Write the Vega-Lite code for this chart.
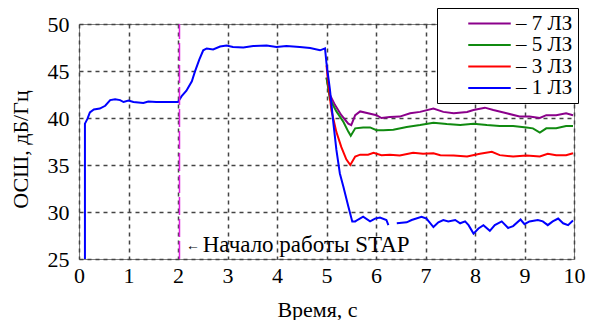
{
  "$schema": "https://vega.github.io/schema/vega-lite/v6.json",
  "width": 495,
  "height": 235,
  "autosize": {"type": "none"},
  "padding": {"left": 79, "top": 24, "right": 19, "bottom": 61},
  "background": "white",
  "view": {"stroke": "#808080", "strokeWidth": 1},
  "datasets": {
    "series": [
      {"t": 5.0, "v": 44.3, "s": "7 ЛЗ"},
      {"t": 5.07, "v": 42.45, "s": "7 ЛЗ"},
      {"t": 5.17, "v": 41.4, "s": "7 ЛЗ"},
      {"t": 5.3, "v": 40.3, "s": "7 ЛЗ"},
      {"t": 5.44, "v": 39.4, "s": "7 ЛЗ"},
      {"t": 5.5, "v": 39.25, "s": "7 ЛЗ"},
      {"t": 5.58, "v": 40.3, "s": "7 ЛЗ"},
      {"t": 5.68, "v": 40.7, "s": "7 ЛЗ"},
      {"t": 5.84, "v": 40.5, "s": "7 ЛЗ"},
      {"t": 6.01, "v": 40.3, "s": "7 ЛЗ"},
      {"t": 6.11, "v": 40.0, "s": "7 ЛЗ"},
      {"t": 6.28, "v": 40.1, "s": "7 ЛЗ"},
      {"t": 6.48, "v": 40.15, "s": "7 ЛЗ"},
      {"t": 6.69, "v": 40.5, "s": "7 ЛЗ"},
      {"t": 6.89, "v": 40.65, "s": "7 ЛЗ"},
      {"t": 7.16, "v": 41.0, "s": "7 ЛЗ"},
      {"t": 7.36, "v": 40.65, "s": "7 ЛЗ"},
      {"t": 7.57, "v": 40.5, "s": "7 ЛЗ"},
      {"t": 7.84, "v": 40.65, "s": "7 ЛЗ"},
      {"t": 7.97, "v": 40.85, "s": "7 ЛЗ"},
      {"t": 8.2, "v": 41.1, "s": "7 ЛЗ"},
      {"t": 8.37, "v": 40.85, "s": "7 ЛЗ"},
      {"t": 8.64, "v": 40.5, "s": "7 ЛЗ"},
      {"t": 8.9, "v": 40.15, "s": "7 ЛЗ"},
      {"t": 9.1, "v": 40.15, "s": "7 ЛЗ"},
      {"t": 9.31, "v": 40.0, "s": "7 ЛЗ"},
      {"t": 9.44, "v": 40.3, "s": "7 ЛЗ"},
      {"t": 9.64, "v": 40.3, "s": "7 ЛЗ"},
      {"t": 9.84, "v": 40.5, "s": "7 ЛЗ"},
      {"t": 9.98, "v": 40.3, "s": "7 ЛЗ"},

      {"t": 5.0, "v": 44.3, "s": "5 ЛЗ"},
      {"t": 5.07, "v": 42.0, "s": "5 ЛЗ"},
      {"t": 5.2, "v": 40.7, "s": "5 ЛЗ"},
      {"t": 5.34, "v": 39.6, "s": "5 ЛЗ"},
      {"t": 5.44, "v": 38.55, "s": "5 ЛЗ"},
      {"t": 5.49, "v": 38.1, "s": "5 ЛЗ"},
      {"t": 5.58, "v": 38.9, "s": "5 ЛЗ"},
      {"t": 5.74, "v": 39.0, "s": "5 ЛЗ"},
      {"t": 5.88, "v": 39.0, "s": "5 ЛЗ"},
      {"t": 6.01, "v": 38.7, "s": "5 ЛЗ"},
      {"t": 6.15, "v": 38.7, "s": "5 ЛЗ"},
      {"t": 6.35, "v": 38.75, "s": "5 ЛЗ"},
      {"t": 6.62, "v": 39.05, "s": "5 ЛЗ"},
      {"t": 6.89, "v": 39.25, "s": "5 ЛЗ"},
      {"t": 7.16, "v": 39.5, "s": "5 ЛЗ"},
      {"t": 7.43, "v": 39.35, "s": "5 ЛЗ"},
      {"t": 7.7, "v": 39.25, "s": "5 ЛЗ"},
      {"t": 7.97, "v": 39.4, "s": "5 ЛЗ"},
      {"t": 8.24, "v": 39.25, "s": "5 ЛЗ"},
      {"t": 8.5, "v": 39.15, "s": "5 ЛЗ"},
      {"t": 8.77, "v": 39.15, "s": "5 ЛЗ"},
      {"t": 9.04, "v": 39.0, "s": "5 ЛЗ"},
      {"t": 9.17, "v": 38.9, "s": "5 ЛЗ"},
      {"t": 9.31, "v": 38.45, "s": "5 ЛЗ"},
      {"t": 9.44, "v": 38.9, "s": "5 ЛЗ"},
      {"t": 9.64, "v": 38.9, "s": "5 ЛЗ"},
      {"t": 9.84, "v": 39.15, "s": "5 ЛЗ"},
      {"t": 9.98, "v": 39.15, "s": "5 ЛЗ"},

      {"t": 5.0, "v": 45.6, "s": "3 ЛЗ"},
      {"t": 5.04, "v": 43.5, "s": "3 ЛЗ"},
      {"t": 5.1, "v": 40.8, "s": "3 ЛЗ"},
      {"t": 5.2, "v": 38.5, "s": "3 ЛЗ"},
      {"t": 5.3, "v": 36.9, "s": "3 ЛЗ"},
      {"t": 5.4, "v": 35.6, "s": "3 ЛЗ"},
      {"t": 5.48, "v": 35.0, "s": "3 ЛЗ"},
      {"t": 5.58, "v": 35.9, "s": "3 ЛЗ"},
      {"t": 5.68, "v": 36.1, "s": "3 ЛЗ"},
      {"t": 5.84, "v": 36.1, "s": "3 ЛЗ"},
      {"t": 5.95, "v": 36.3, "s": "3 ЛЗ"},
      {"t": 6.11, "v": 36.05, "s": "3 ЛЗ"},
      {"t": 6.28, "v": 36.1, "s": "3 ЛЗ"},
      {"t": 6.48, "v": 36.0, "s": "3 ЛЗ"},
      {"t": 6.75, "v": 36.3, "s": "3 ЛЗ"},
      {"t": 6.95, "v": 36.2, "s": "3 ЛЗ"},
      {"t": 7.16, "v": 36.25, "s": "3 ЛЗ"},
      {"t": 7.3, "v": 36.05, "s": "3 ЛЗ"},
      {"t": 7.57, "v": 36.0, "s": "3 ЛЗ"},
      {"t": 7.84, "v": 35.9, "s": "3 ЛЗ"},
      {"t": 8.1, "v": 36.2, "s": "3 ЛЗ"},
      {"t": 8.34, "v": 36.4, "s": "3 ЛЗ"},
      {"t": 8.5, "v": 36.05, "s": "3 ЛЗ"},
      {"t": 8.77, "v": 35.9, "s": "3 ЛЗ"},
      {"t": 9.04, "v": 36.0, "s": "3 ЛЗ"},
      {"t": 9.31, "v": 35.9, "s": "3 ЛЗ"},
      {"t": 9.47, "v": 36.2, "s": "3 ЛЗ"},
      {"t": 9.64, "v": 36.05, "s": "3 ЛЗ"},
      {"t": 9.84, "v": 36.05, "s": "3 ЛЗ"},
      {"t": 9.98, "v": 36.25, "s": "3 ЛЗ"},

      {"t": 0.12, "v": 25.0, "s": "1 ЛЗ"},
      {"t": 0.12, "v": 39.4, "s": "1 ЛЗ"},
      {"t": 0.17, "v": 39.9, "s": "1 ЛЗ"},
      {"t": 0.22, "v": 40.6, "s": "1 ЛЗ"},
      {"t": 0.3, "v": 40.9, "s": "1 ЛЗ"},
      {"t": 0.42, "v": 41.0, "s": "1 ЛЗ"},
      {"t": 0.53, "v": 41.3, "s": "1 ЛЗ"},
      {"t": 0.63, "v": 41.9, "s": "1 ЛЗ"},
      {"t": 0.73, "v": 42.0, "s": "1 ЛЗ"},
      {"t": 0.83, "v": 41.9, "s": "1 ЛЗ"},
      {"t": 0.9, "v": 41.7, "s": "1 ЛЗ"},
      {"t": 1.0, "v": 41.85, "s": "1 ЛЗ"},
      {"t": 1.1, "v": 41.7, "s": "1 ЛЗ"},
      {"t": 1.3, "v": 41.6, "s": "1 ЛЗ"},
      {"t": 1.4, "v": 41.75, "s": "1 ЛЗ"},
      {"t": 1.56, "v": 41.7, "s": "1 ЛЗ"},
      {"t": 1.76, "v": 41.7, "s": "1 ЛЗ"},
      {"t": 2.0, "v": 41.7, "s": "1 ЛЗ"},
      {"t": 2.07, "v": 42.3, "s": "1 ЛЗ"},
      {"t": 2.17, "v": 42.9, "s": "1 ЛЗ"},
      {"t": 2.28, "v": 43.9, "s": "1 ЛЗ"},
      {"t": 2.34, "v": 44.9, "s": "1 ЛЗ"},
      {"t": 2.43, "v": 46.2, "s": "1 ЛЗ"},
      {"t": 2.51, "v": 47.2, "s": "1 ЛЗ"},
      {"t": 2.58, "v": 47.4, "s": "1 ЛЗ"},
      {"t": 2.71, "v": 47.3, "s": "1 ЛЗ"},
      {"t": 2.85, "v": 47.6, "s": "1 ЛЗ"},
      {"t": 2.98, "v": 47.7, "s": "1 ЛЗ"},
      {"t": 3.11, "v": 47.55, "s": "1 ЛЗ"},
      {"t": 3.32, "v": 47.5, "s": "1 ЛЗ"},
      {"t": 3.52, "v": 47.65, "s": "1 ЛЗ"},
      {"t": 3.79, "v": 47.7, "s": "1 ЛЗ"},
      {"t": 3.99, "v": 47.55, "s": "1 ЛЗ"},
      {"t": 4.19, "v": 47.65, "s": "1 ЛЗ"},
      {"t": 4.46, "v": 47.55, "s": "1 ЛЗ"},
      {"t": 4.67, "v": 47.45, "s": "1 ЛЗ"},
      {"t": 4.87, "v": 47.2, "s": "1 ЛЗ"},
      {"t": 4.97, "v": 47.4, "s": "1 ЛЗ"},
      {"t": 5.0, "v": 45.8, "s": "1 ЛЗ"},
      {"t": 5.07, "v": 43.0, "s": "1 ЛЗ"},
      {"t": 5.14, "v": 39.4, "s": "1 ЛЗ"},
      {"t": 5.2, "v": 36.6, "s": "1 ЛЗ"},
      {"t": 5.27, "v": 34.1, "s": "1 ЛЗ"},
      {"t": 5.34, "v": 32.7, "s": "1 ЛЗ"},
      {"t": 5.44, "v": 30.6, "s": "1 ЛЗ"},
      {"t": 5.52, "v": 29.0, "s": "1 ЛЗ"},
      {"t": 5.58, "v": 29.0, "s": "1 ЛЗ"},
      {"t": 5.64, "v": 29.2, "s": "1 ЛЗ"},
      {"t": 5.74, "v": 29.5, "s": "1 ЛЗ"},
      {"t": 5.88, "v": 29.0, "s": "1 ЛЗ"},
      {"t": 5.98, "v": 29.3, "s": "1 ЛЗ"},
      {"t": 6.08, "v": 29.4, "s": "1 ЛЗ"},
      {"t": 6.21, "v": 29.15, "s": "1 ЛЗ"},
      {"t": 6.25, "v": 28.6, "s": "1 ЛЗ"},
      {"t": 6.33, "v": null, "s": "1 ЛЗ"},
      {"t": 6.42, "v": 28.8, "s": "1 ЛЗ"},
      {"t": 6.62, "v": 28.9, "s": "1 ЛЗ"},
      {"t": 6.72, "v": 29.15, "s": "1 ЛЗ"},
      {"t": 6.92, "v": 29.5, "s": "1 ЛЗ"},
      {"t": 7.02, "v": 29.3, "s": "1 ЛЗ"},
      {"t": 7.16, "v": 28.4, "s": "1 ЛЗ"},
      {"t": 7.26, "v": 28.9, "s": "1 ЛЗ"},
      {"t": 7.36, "v": 29.15, "s": "1 ЛЗ"},
      {"t": 7.46, "v": 29.0, "s": "1 ЛЗ"},
      {"t": 7.6, "v": 29.15, "s": "1 ЛЗ"},
      {"t": 7.7, "v": 28.8, "s": "1 ЛЗ"},
      {"t": 7.8, "v": 29.0, "s": "1 ЛЗ"},
      {"t": 7.87, "v": 28.6, "s": "1 ЛЗ"},
      {"t": 7.97, "v": 27.7, "s": "1 ЛЗ"},
      {"t": 8.07, "v": 28.25, "s": "1 ЛЗ"},
      {"t": 8.17, "v": 28.6, "s": "1 ЛЗ"},
      {"t": 8.3, "v": 28.0, "s": "1 ЛЗ"},
      {"t": 8.4, "v": 28.6, "s": "1 ЛЗ"},
      {"t": 8.54, "v": 29.0, "s": "1 ЛЗ"},
      {"t": 8.67, "v": 28.3, "s": "1 ЛЗ"},
      {"t": 8.77, "v": 28.5, "s": "1 ЛЗ"},
      {"t": 8.92, "v": 29.2, "s": "1 ЛЗ"},
      {"t": 9.0, "v": 28.7, "s": "1 ЛЗ"},
      {"t": 9.1, "v": 29.0, "s": "1 ЛЗ"},
      {"t": 9.27, "v": 29.15, "s": "1 ЛЗ"},
      {"t": 9.37, "v": 29.0, "s": "1 ЛЗ"},
      {"t": 9.47, "v": 28.6, "s": "1 ЛЗ"},
      {"t": 9.57, "v": 29.0, "s": "1 ЛЗ"},
      {"t": 9.68, "v": 29.3, "s": "1 ЛЗ"},
      {"t": 9.78, "v": 28.8, "s": "1 ЛЗ"},
      {"t": 9.88, "v": 28.6, "s": "1 ЛЗ"},
      {"t": 9.98, "v": 29.1, "s": "1 ЛЗ"}
    ],
    "gx": [{"g": 1}, {"g": 2}, {"g": 3}, {"g": 4}, {"g": 5}, {"g": 6}, {"g": 7}, {"g": 8}, {"g": 9}],
    "gy": [{"g": 30}, {"g": 35}, {"g": 40}, {"g": 45}],
    "start": [{"t": 2.03, "lo": 25, "hi": 50}],
    "notes": [
      {"t": 2.16, "v": 26.0, "label": "←", "size": 14},
      {"t": 2.5, "v": 25.75, "label": "Начало работы STAP", "size": 23}
    ]
  },
  "encoding": {
    "x": {
      "field": "t", "type": "quantitative",
      "scale": {"domain": [0, 10], "nice": false},
      "axis": {
        "tickCount": 10,
        "grid": true,
        "gridColor": "#444444",
        "gridWidth": 1.5,
        "gridDash": [4, 4],
        "gridOpacity": 1,
        "tickSize": 0,
        "domain": false,
        "labelFont": "Liberation Serif",
        "labelFontSize": 22,
        "labelColor": "black",
        "labelPadding": 6,
        "labelFlush": false,
        "title": "Время, с",
        "titleFont": "Liberation Serif",
        "titleFontSize": 22,
        "titleFontWeight": "normal",
        "titleColor": "black",
        "titleX": 238,
        "titleY": 57,
        "titleBaseline": "alphabetic",
        "titleAnchor": "middle"
      }
    },
    "y": {
      "field": "v", "type": "quantitative",
      "scale": {"domain": [25, 50], "nice": false},
      "axis": {
        "tickCount": 5,
        "grid": true,
        "gridColor": "#444444",
        "gridWidth": 1.5,
        "gridDash": [4, 4],
        "gridOpacity": 1,
        "tickSize": 0,
        "domain": false,
        "labelFont": "Liberation Serif",
        "labelFontSize": 22,
        "labelColor": "black",
        "labelPadding": 10,
        "labelFlush": false,
        "title": "ОСШ, дБ/Гц",
        "titleFont": "Liberation Serif",
        "titleFontSize": 22,
        "titleFontWeight": "normal",
        "titleColor": "black",
        "titleAngle": -90,
        "titleX": -59,
        "titleY": 125,
        "titleBaseline": "middle",
        "titleAnchor": "middle"
      }
    }
  },
  "layer": [
    {
      "data": {"name": "gx"},
      "mark": {"type": "rule", "color": "#444444", "strokeWidth": 1.5, "strokeDash": [4, 4], "opacity": 1},
      "encoding": {
        "x": {"field": "g", "type": "quantitative"},
        "y": {"datum": 25, "type": "quantitative"},
        "y2": {"datum": 50}
      }
    },
    {
      "data": {"name": "gy"},
      "mark": {"type": "rule", "color": "#444444", "strokeWidth": 1.5, "strokeDash": [4, 4], "opacity": 1},
      "encoding": {
        "y": {"field": "g", "type": "quantitative"},
        "x": {"datum": 0, "type": "quantitative"},
        "x2": {"datum": 10}
      }
    },
    {
      "data": {"name": "series"},
      "mark": {"type": "line", "strokeWidth": 2, "clip": true},
      "encoding": {
        "color": {
          "field": "s", "type": "nominal",
          "scale": {
            "domain": ["7 ЛЗ", "5 ЛЗ", "3 ЛЗ", "1 ЛЗ"],
            "range": ["#8b008b", "#108a10", "#ff0000", "#0000ff"]
          },
          "legend": {
            "title": null,
            "orient": "none",
            "legendX": 358,
            "legendY": -16,
            "strokeColor": "black",
            "fillColor": "white",
            "padding": 5,
            "symbolType": "M-2.5,0H2.5",
            "symbolSize": 289,
            "symbolStrokeWidth": 2,
            "symbolFillColor": "transparent",
            "symbolOffset": 37,
            "labelFont": "Liberation Serif",
            "labelFontSize": 21,
            "labelColor": "black",
            "labelOffset": 16,
            "rowPadding": -0.5,
            "labelExpr": "'– ' + datum.label"
          }
        },
        "order": {"field": "t", "type": "quantitative"}
      }
    },
    {
      "data": {"name": "start"},
      "mark": {"type": "rule", "color": "#e020e0", "strokeWidth": 1.5, "strokeDash": [18, 4]},
      "encoding": {
        "y": {"field": "lo", "type": "quantitative"},
        "y2": {"field": "hi"}
      }
    },
    {
      "data": {"name": "notes"},
      "mark": {"type": "text", "align": "left", "baseline": "alphabetic", "font": "Liberation Serif", "color": "black"},
      "encoding": {
        "text": {"field": "label"},
        "size": {"field": "size", "type": "quantitative", "scale": null}
      }
    }
  ]
}
